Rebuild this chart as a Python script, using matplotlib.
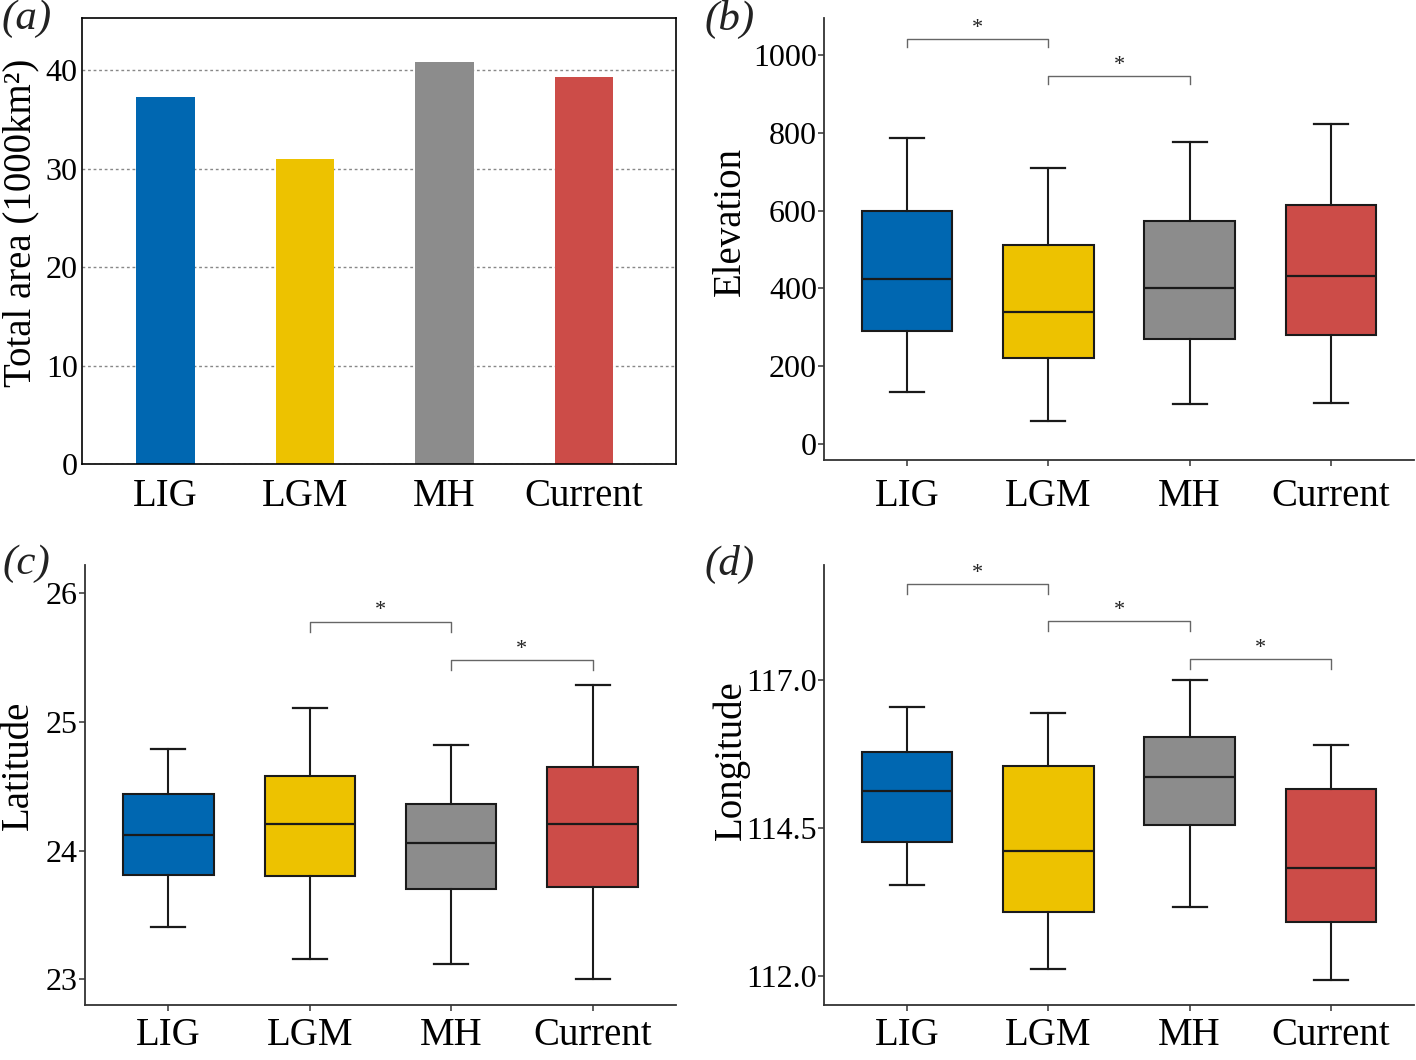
import matplotlib
matplotlib.use('Agg')
import matplotlib.pyplot as plt

# ── Data ─────────────────────────────────────────────────────────────────────
periods = ['LIG', 'LGM', 'MH', 'Current']
colors = ['#0067B1', '#EDC200', '#8C8C8C', '#CC4C48']

area = [37.3, 31.0, 40.8, 39.3]

elev_lo = [134, 59, 103, 105]
elev_q1 = [290, 221, 270, 280]
elev_med = [424, 339, 401, 432]
elev_q3 = [599, 512, 573, 614]
elev_hi = [787, 709, 776, 823]
elev_pairs = [(0, 1), (1, 2)]
elev_brk = [1041, 946]

lat_lo = [23.41, 23.16, 23.12, 23.00]
lat_q1 = [23.81, 23.80, 23.70, 23.72]
lat_med = [24.12, 24.21, 24.06, 24.21]
lat_q3 = [24.44, 24.58, 24.36, 24.65]
lat_hi = [24.79, 25.11, 24.82, 25.29]
lat_pairs = [(1, 2), (2, 3)]
lat_brk = [25.78, 25.48]

lon_lo = [113.54, 112.12, 113.17, 111.93]
lon_q1 = [114.26, 113.08, 114.55, 112.91]
lon_med = [115.12, 114.11, 115.36, 113.82]
lon_q3 = [115.78, 115.55, 116.04, 115.15]
lon_hi = [116.54, 116.44, 117.00, 115.90]
lon_pairs = [(0, 1), (1, 2), (2, 3)]
lon_brk = [118.62, 117.99, 117.35]

# ── Style ────────────────────────────────────────────────────────────────────
plt.rcParams['font.family'] = ['Liberation Serif', 'DejaVu Serif']
DARK = '#333333'

fig = plt.figure(figsize=(14.16, 10.6), dpi=100)
fig.patch.set_facecolor('white')

ax_a = fig.add_axes([0.0579, 0.5623, 0.4195, 0.4207])
ax_b = fig.add_axes([0.5819, 0.5660, 0.4167, 0.4170])
ax_c = fig.add_axes([0.0600, 0.0519, 0.4174, 0.4151])
ax_d = fig.add_axes([0.5819, 0.0519, 0.4167, 0.4151])

# ── (a) bar chart ────────────────────────────────────────────────────────────
ax_a.bar(range(4), area, width=0.42, color=colors, zorder=2)
ax_a.set_xlim(-0.6, 3.66)
ax_a.set_ylim(0, 45.3)
ax_a.set_yticks([0, 10, 20, 30, 40])
ax_a.set_xticks(range(4), periods)
ax_a.grid(axis='y', color='#888888', lw=1.0, ls=(0, (2, 2)), zorder=1)
ax_a.tick_params(axis='both', length=0)
ax_a.tick_params(axis='x', labelsize=28, pad=10)
ax_a.tick_params(axis='y', labelsize=23, pad=3)
for s in ax_a.spines.values():
    s.set_color('black')
    s.set_linewidth(1.2)
ax_a.set_ylabel('Total area (1000km²)', fontsize=28, va='center')
ax_a.yaxis.set_label_coords(-0.103, 0.54)


# ── box panels ───────────────────────────────────────────────────────────────
def box_panel(ax, lo, q1, med, q3, hi, pairs, brk, drop, ylim, yticks,
              yfmt, ylabel, label_xy):
    stats = [dict(whislo=lo[i], q1=q1[i], med=med[i], q3=q3[i], whishi=hi[i],
                  fliers=[]) for i in range(4)]
    bp = ax.bxp(stats, positions=range(4), widths=0.64, capwidths=0.24,
                patch_artist=True, showfliers=False,
                boxprops=dict(edgecolor='#1a1a1a', linewidth=1.5),
                medianprops=dict(color='#1a1a1a', linewidth=1.6),
                whiskerprops=dict(color='#1a1a1a', linewidth=1.5),
                capprops=dict(color='#1a1a1a', linewidth=1.6))
    for patch, c in zip(bp['boxes'], colors):
        patch.set_facecolor(c)

    for (i, j), y in zip(pairs, brk):
        ax.plot([i, i, j, j], [y - drop, y, y, y - drop], color='#666666',
                lw=1.0, zorder=3)
        ax.annotate('*', xy=((i + j) / 2, y), xytext=(0, 1),
                    textcoords='offset points', ha='center', va='bottom',
                    fontsize=16, color='#222222')

    ax.set_xlim(-0.59, 3.59)
    ax.set_ylim(*ylim)
    ax.set_xticks(range(4), periods)
    ax.set_yticks(yticks, [yfmt.format(v) for v in yticks])
    ax.spines[['top', 'right']].set_visible(False)
    for s in ('left', 'bottom'):
        ax.spines[s].set_color(DARK)
        ax.spines[s].set_linewidth(1.3)
    ax.tick_params(axis='both', length=4, width=1.1, color=DARK)
    ax.tick_params(axis='x', labelsize=28, pad=9)
    ax.tick_params(axis='y', labelsize=23, pad=1)
    ax.set_ylabel(ylabel, fontsize=28, va='center')
    ax.yaxis.set_label_coords(*label_xy)


box_panel(ax_b, elev_lo, elev_q1, elev_med, elev_q3, elev_hi,
          elev_pairs, elev_brk, 21, (-41, 1095), [0, 200, 400, 600, 800, 1000],
          '{:d}', 'Elevation', (-0.158, 0.54))
box_panel(ax_c, lat_lo, lat_q1, lat_med, lat_q3, lat_hi,
          lat_pairs, lat_brk, 0.08, (22.8, 26.22), [23, 24, 25, 26],
          '{:d}', 'Latitude', (-0.112, 0.545))
box_panel(ax_d, lon_lo, lon_q1, lon_med, lon_q3, lon_hi,
          lon_pairs, lon_brk, 0.17, (111.51, 118.94), [112.0, 114.5, 117.0],
          '{:.1f}', 'Longitude', (-0.158, 0.557))
# bottom row labels sit close to the lower edge; keep them inside the canvas
ax_c.tick_params(axis='x', pad=5)
ax_d.tick_params(axis='x', pad=5)

# panel letters
for lbl, x, y in [('(a)', 27, 19), ('(b)', 730, 19), ('(c)', 26, 564), ('(d)', 730, 564)]:
    fig.text(x / 1416, 1 - y / 1060, lbl, ha='center', va='center',
             fontsize=31, style='italic', color='#222222')

fig.savefig('out.png', dpi=100, facecolor='white')
